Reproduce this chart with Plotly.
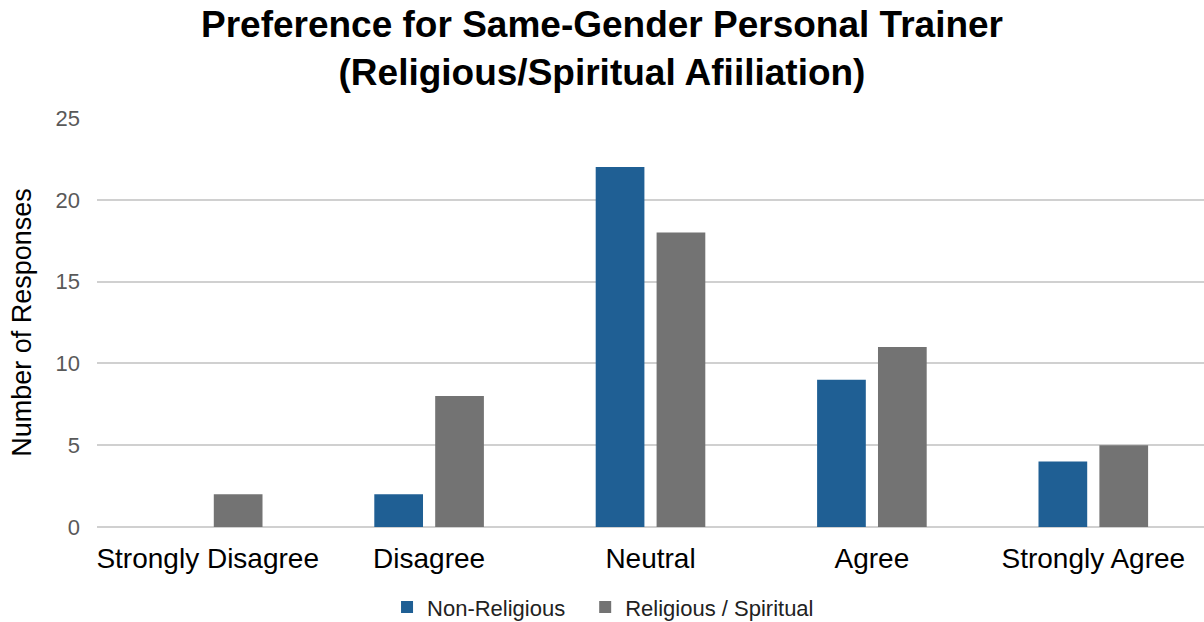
import plotly.graph_objects as go

categories = ["Strongly Disagree", "Disagree", "Neutral", "Agree", "Strongly Agree"]
non_religious = [0, 2, 22, 9, 4]
religious_spiritual = [2, 8, 18, 11, 5]
y_ticks = [0, 5, 10, 15, 20, 25]

fig = go.Figure()
fig.add_trace(go.Bar(name="Non-Religious", x=categories, y=non_religious,
                     marker=dict(color="#1f5f94", line=dict(width=0)),
                     legend="legend", showlegend=True))
fig.add_trace(go.Bar(name="Religious / Spiritual", x=categories, y=religious_spiritual,
                     marker=dict(color="#737373", line=dict(width=0)),
                     legend="legend2", showlegend=True))

legend_style = dict(orientation="h", yanchor="middle", y=-0.196, xanchor="left",
                    font=dict(size=22, color="#222222"), bgcolor="rgba(0,0,0,0)")

fig.update_layout(
    width=1204, height=622, showlegend=True,
    paper_bgcolor="white", plot_bgcolor="white",
    barmode="group", bargap=0.45, bargroupgap=0.2,
    margin=dict(l=97, r=0, t=118, b=95, autoexpand=False),
    font=dict(family="Liberation Sans, Arial, sans-serif", color="black"),
    title=dict(
        text="<b>Preference for Same-Gender Personal Trainer<br>(Religious/Spiritual Afiiliation)</b>",
        x=0.5, xanchor="center", yref="container", y=0.94, yanchor="middle",
        font=dict(size=37, color="black"),
    ),
    legend=dict(x=0.262, **legend_style),
    legend2=dict(x=0.441, **legend_style),
    xaxis=dict(tickfont=dict(size=28, color="black"), showgrid=False,
               showline=False, ticks="", ticklabelstandoff=12, automargin=False),
    yaxis=dict(range=[0, 25], tickvals=y_ticks, showgrid=True,
               gridcolor="#d0d0d0", gridwidth=1.5, zeroline=True,
               zerolinecolor="#d0d0d0", zerolinewidth=1.5,
               tickfont=dict(size=22, color="#595959"), ticks="",
               ticklabelstandoff=16, automargin=False,
               title=dict(text="Number of Responses", font=dict(size=27, color="black"),
                          standoff=16)),
)

fig.write_html("out.html")
